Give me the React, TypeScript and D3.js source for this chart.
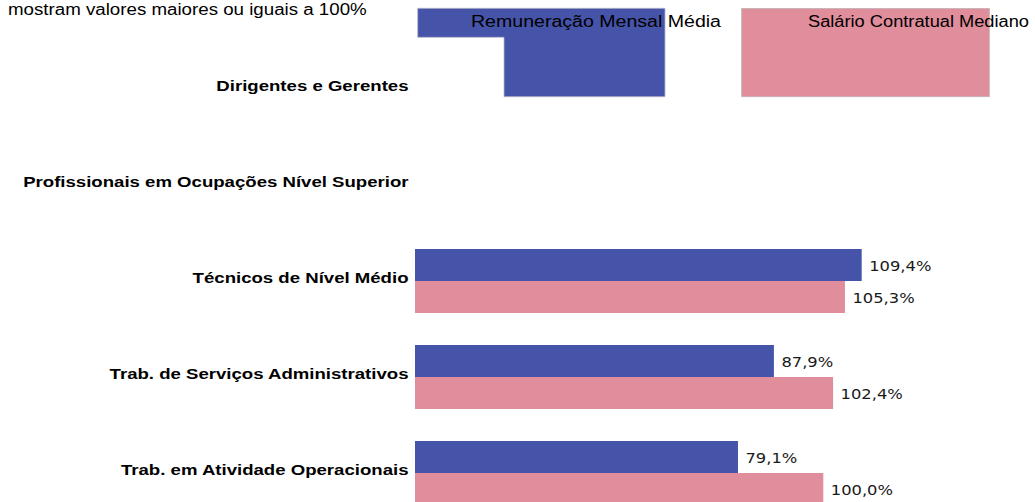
import React, { useEffect, useRef } from "react";
import * as d3 from "d3";

const categories = [
  "Dirigentes e Gerentes",
  "Profissionais em Ocupações Nível Superior",
  "Técnicos de Nível Médio",
  "Trab. de Serviços Administrativos",
  "Trab. em Atividade Operacionais",
];
const seriesNames = ["Remuneração Mensal Média", "Salário Contratual Mediano"];
const remuneracao: (number | null)[] = [null, null, 109.4, 87.9, 79.1];
const salario: (number | null)[] = [null, null, 105.3, 102.4, 100.0];
const subtitleLines = ["mostram valores maiores ou iguais a 100%"];

const W = 1035;
const H = 502;
const BLUE = "#4553A9";
const PINK = "#E08D9C";
const SX = 1.2;

export default function App() {
  const ref = useRef<SVGSVGElement>(null);

  useEffect(() => {
    const svg = d3.select(ref.current);
    svg.selectAll("*").remove();

    const x = d3.scaleLinear().domain([0, 100]).range([415, 823.3]);
    const y = d3
      .scaleBand<string>()
      .domain(categories)
      .range([41, 521])
      .paddingInner(1 / 3)
      .paddingOuter(1 / 6);
    const bh = y.bandwidth() / 2;

    const stretchText = (
      g: d3.Selection<SVGGElement, unknown, null, undefined>,
      tx: number,
      ty: number,
      text: string,
      opts: {
        anchor?: string;
        size: number;
        weight?: string;
        family: string;
        fill?: string;
        baseline?: string;
        width?: number;
      }
    ) => {
      const t = g
        .append("text")
        .attr("transform", `translate(${tx},${ty}) scale(${SX},1)`)
        .attr("text-anchor", opts.anchor || "start")
        .attr("font-family", opts.family)
        .attr("font-size", opts.size)
        .attr("font-weight", opts.weight || "normal")
        .attr("fill", opts.fill || "#000")
        .attr("dominant-baseline", opts.baseline || "alphabetic")
        .text(text);
      if (opts.width) t.attr("textLength", opts.width / SX).attr("lengthAdjust", "spacingAndGlyphs");
      return t;
    };

    const root = svg.append("g");
    const ARIAL = "Liberation Sans, Arial, sans-serif";

    // subtitle (top, partially cropped)
    subtitleLines.forEach((t, i) => {
      stretchText(root, 8, 15 + i * 18, t, { size: 15.6, family: ARIAL });
    });

    // legend swatches
    const leg = root.append("g");
    leg.append("path")
      .attr("d", "M417.7,8.3 H665 V96.7 H504 V37.3 H417.7 Z")
      .attr("fill", BLUE)
      .attr("stroke", "#b8b8c8")
      .attr("stroke-width", 0.8);
    leg.append("rect")
      .attr("x", 741.7).attr("y", 8.5).attr("width", 247.6).attr("height", 88.2)
      .attr("fill", PINK)
      .attr("stroke", "#c0b0b4")
      .attr("stroke-width", 0.8);
    stretchText(leg, 471, 27, seriesNames[0], { size: 15.8, family: ARIAL, width: 250 });
    stretchText(leg, 808, 27, seriesNames[1], { size: 15.6, family: ARIAL, width: 221 });

    // category labels
    categories.forEach((c) => {
      const cy = (y(c) as number) + bh;
      stretchText(root, 408.5, cy + 1.5, c, {
        anchor: "end",
        size: 15.5,
        weight: "bold",
        family: ARIAL,
      });
    });

    // bars
    const series = [remuneracao, salario];
    const colors = [BLUE, PINK];
    series.forEach((vals, si) => {
      categories.forEach((c, ci) => {
        const v = vals[ci];
        if (v == null) return;
        const y0 = (y(c) as number) + si * bh;
        root.append("rect")
          .attr("x", x(0))
          .attr("y", y0)
          .attr("width", x(v) - x(0))
          .attr("height", bh)
          .attr("fill", colors[si]);
        stretchText(root, x(v) + 7.5, y0 + bh / 2 + 1, d3.format(".1f")(v).replace(".", ",") + "%", {
          size: 13.6,
          family: "DejaVu Sans, Verdana, sans-serif",
          fill: "#1a1a1a",
          baseline: "central",
        });
      });
    });
  }, []);

  return (
    <svg
      ref={ref}
      width={W}
      height={H}
      style={{ position: "absolute", left: 0, top: 0, background: "#fff" }}
    />
  );
}
